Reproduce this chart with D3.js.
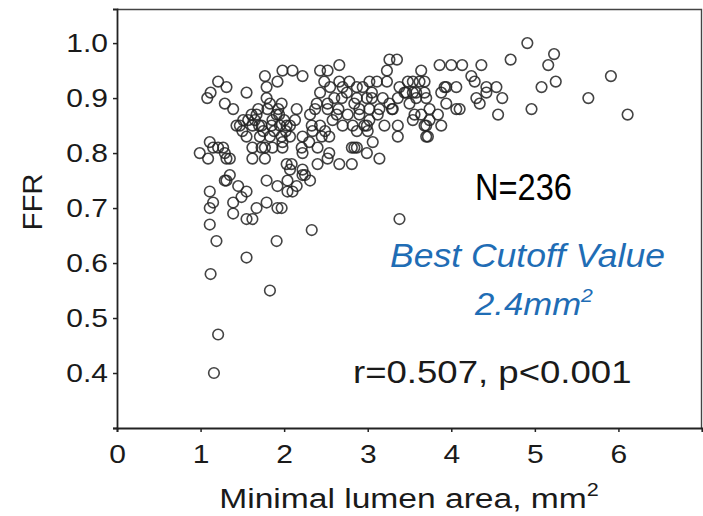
<!DOCTYPE html>
<meta charset="utf-8">
<body style="margin:0;background:#fff">
<script src="https://cdn.jsdelivr.net/npm/d3@7"></script>
<style>
text { font-family: "Liberation Sans", Arial, sans-serif; fill: #1a1a1a; }
.tick line { stroke: #222; stroke-width: 1.5; }
.domain { stroke: #222; stroke-width: 1.8; }
</style>
<svg id="chart" width="703" height="516"></svg>
<script>
// minimal lumen area (mm2), FFR
var points = [
 [1.21,0.93],[1.31,0.92],[1.08,0.90],[1.12,0.91],[1.29,0.89],[1.39,0.88],[1.55,0.91],[1.77,0.94],[1.98,0.95],[2.10,0.95],[2.22,0.94],[1.92,0.93],[1.79,0.92],[1.79,0.90],[1.80,0.88],[1.97,0.89],
 [1.47,0.85],[1.57,0.86],[1.67,0.87],[1.62,0.85],[1.73,0.85],[1.86,0.86],[1.95,0.85],[2.03,0.85],[2.07,0.85],[1.91,0.87],
 [1.55,0.83],[1.71,0.83],[1.83,0.83],[1.97,0.83],[1.62,0.81],[1.77,0.81],[1.86,0.81],[1.98,0.81],[2.22,0.83],[2.34,0.84],[2.49,0.84],[2.21,0.81],[2.40,0.81],[2.54,0.80],
 [0.99,0.80],[1.11,0.82],[1.09,0.79],[1.21,0.81],[1.29,0.80],[1.35,0.79],[1.31,0.79],[1.62,0.79],[1.77,0.79],[2.03,0.78],[2.07,0.77],[2.22,0.77],[2.40,0.78],[2.66,0.78],
 [1.79,0.75],[1.92,0.74],[2.04,0.75],[2.10,0.73],[2.31,0.75],[2.22,0.76],[1.35,0.76],[1.31,0.75],[1.45,0.74],[1.55,0.73],[1.49,0.72],[1.39,0.71],[1.11,0.73],[1.15,0.71],[1.11,0.70],[1.39,0.69],
 [1.55,0.68],[1.62,0.68],[1.67,0.70],[1.79,0.71],[1.92,0.70],[1.97,0.70],[1.11,0.67],[1.19,0.64],[1.91,0.64],[2.33,0.66],[1.55,0.61],[1.12,0.58],[1.83,0.55],[1.21,0.47],[1.16,0.40],
 [2.66,0.96],[2.43,0.95],
 [4.91,1.00],[5.23,0.98],[5.16,0.96],[4.71,0.97],[5.91,0.94],[5.25,0.93],[5.08,0.92],[5.64,0.90],[4.96,0.88],[6.11,0.87],[4.56,0.87],[4.61,0.90],[4.54,0.92],[4.42,0.92],[4.36,0.96],[4.24,0.94],
 [4.13,0.96],[4.00,0.96],[3.86,0.96],[4.28,0.93],[4.42,0.91],[4.34,0.89],[4.30,0.90],[4.06,0.92],[3.94,0.92],[3.94,0.89],[4.06,0.88],[4.10,0.88],[3.84,0.87],[3.74,0.88],[3.72,0.83],[3.68,0.85],
 [3.64,0.87],[3.56,0.87],[3.58,0.90],[3.54,0.91],[3.62,0.93],[3.64,0.95],[3.48,0.93],[3.44,0.91],[3.36,0.90],[3.36,0.85],[3.36,0.83],[3.29,0.88],[3.35,0.97],[3.26,0.97],[3.23,0.95],[3.23,0.93],
 [3.18,0.90],[3.11,0.93],[3.02,0.93],[2.94,0.92],[3.05,0.90],[3.02,0.88],[3.14,0.88],[3.12,0.87],[3.02,0.86],[2.90,0.87],[2.96,0.85],[3.06,0.82],[3.14,0.79],[2.99,0.80],[2.87,0.81],[2.81,0.78],
 [2.84,0.89],[3.38,0.68],
 [1.69,0.88],[1.43,0.85],[1.51,0.86],[1.61,0.87],[1.85,0.85],[2.13,0.86],[2.31,0.87],[2.39,0.89],[2.33,0.85],[1.83,0.89],
 [2.52,0.95],[2.66,0.93],[2.78,0.93],[3.54,0.93],[3.68,0.93],[2.43,0.91],[2.70,0.92],[2.87,0.92],[3.05,0.91],[3.38,0.92],[3.46,0.91],[3.58,0.91],[3.68,0.91],[3.88,0.91],[3.92,0.92],[3.70,0.90],
 [3.50,0.89],[2.52,0.89],[2.69,0.90],[2.87,0.90],[2.99,0.90],[3.26,0.89],[3.30,0.88],[2.37,0.88],[2.52,0.88],[2.63,0.87],[2.76,0.87],[2.90,0.88],[3.54,0.86],[3.74,0.86],[3.88,0.85],[3.70,0.85],
 [2.43,0.85],[2.58,0.86],[2.70,0.85],[2.82,0.85],[2.99,0.85],[2.87,0.84],
 [1.15,0.81],[1.27,0.81],[1.73,0.81],[1.98,0.82],[2.07,0.83],[2.22,0.80],[2.09,0.78],[2.04,0.73],[2.15,0.74],[2.25,0.76],[1.29,0.75],
 [3.70,0.83],[2.54,0.83],[2.52,0.79],[2.81,0.81],[2.84,0.81],[3.00,0.84],
 [1.65,0.86],[1.75,0.84],[1.88,0.84],[2.00,0.86],[1.94,0.87],[2.02,0.84],[1.70,0.85],[2.60,0.90],[2.65,0.88],[2.75,0.91],[1.93,0.88],[2.45,0.83],[2.30,0.82],[2.15,0.88],[1.50,0.84],[2.55,0.92],
 [2.48,0.93],[3.20,0.85]
];
var xTicks = [0, 1, 2, 3, 4, 5, 6, 7];
var yTicks = [0.3, 0.4, 0.5, 0.6, 0.7, 0.8, 0.9, 1.0];
var xLabels = ["0", "1", "2", "3", "4", "5", "6", ""];
var yLabels = ["", "0.4", "0.5", "0.6", "0.7", "0.8", "0.9", "1.0"];

var L = 117, R = 702, T = 9, B = 428;
var svg = d3.select("#chart");

var x = d3.scaleLinear().domain([0, 7]).range([L, R]);
var y = d3.scaleLinear().domain([0.3, 1.062]).range([B, T]);

// top and right edges of the box, lighter than the axes
svg.append("path")
  .attr("d", "M" + L + "," + (T + 0.5) + "H" + (R - 0.5) + "V" + B)
  .attr("fill", "none").attr("stroke", "#444").attr("stroke-width", 1.4);

var stretch = 1.2;   // the picture's text is wide

var gx = svg.append("g").attr("transform", "translate(0," + B + ")")
  .call(d3.axisBottom(x).tickValues(xTicks).tickSizeOuter(0).tickSize(4)
    .tickFormat(function(d, i){ return xLabels[i]; }));
gx.selectAll("text").attr("font-size", 25).attr("y", 17)
  .attr("transform", "scale(" + stretch + ",1)");

var gy = svg.append("g").attr("transform", "translate(" + L + ",0)")
  .call(d3.axisLeft(y).tickValues(yTicks).tickSizeOuter(0).tickSize(4)
    .tickFormat(function(d, i){ return yLabels[i]; }));
gy.selectAll("text").attr("font-size", 25).attr("x", -9 / stretch)
  .attr("transform", "scale(" + stretch + ",1)");
svg.selectAll(".tick text").attr("fill", "#1a1a1a").style("font-family", "'Liberation Sans', Arial, sans-serif");

// points
svg.append("g").selectAll("circle")
  .data(points).enter().append("circle")
  .attr("cx", function(d){ return x(d[0]); })
  .attr("cy", function(d){ return y(d[1]); })
  .attr("r", 5.3)
  .attr("fill", "none")
  .attr("stroke", "#222")
  .attr("stroke-width", 1.6)
  .attr("stroke-opacity", 0.85);

// axis titles
svg.append("text")
  .attr("transform", "translate(42,202) rotate(-90)")
  .attr("text-anchor", "middle").attr("font-size", 27)
  .attr("textLength", 57).attr("lengthAdjust", "spacingAndGlyphs")
  .text("FFR");

var xt = svg.append("text")
  .attr("transform", "translate(409,508) scale(" + stretch + ",1)")
  .attr("text-anchor", "middle").attr("font-size", 28);
xt.append("tspan").text("Minimal lumen area, mm");
xt.append("tspan").attr("font-size", 18).attr("dy", -12).text("2");

// annotations
svg.append("text")
  .attr("x", 475).attr("y", 200)
  .attr("font-size", 36).attr("fill", "#000").style("fill", "#000")
  .attr("textLength", 97).attr("lengthAdjust", "spacingAndGlyphs")
  .text("N=236");

svg.append("text")
  .attr("x", 390).attr("y", 267)
  .attr("font-size", 33).attr("font-style", "italic").style("fill", "#1f6db5")
  .attr("textLength", 275).attr("lengthAdjust", "spacingAndGlyphs")
  .text("Best Cutoff Value");

var cut = svg.append("text")
  .attr("transform", "translate(475,315) scale(1.12,1)")
  .attr("font-size", 31).attr("font-style", "italic").style("fill", "#1f6db5");
cut.append("tspan").text("2.4mm");
cut.append("tspan").attr("font-size", 19).attr("dy", -13).text("2");

svg.append("text")
  .attr("transform", "translate(353,383) scale(1.18,1)")
  .attr("font-size", 31)
  .text("r=0.507, p<0.001");
</script>
</body>
